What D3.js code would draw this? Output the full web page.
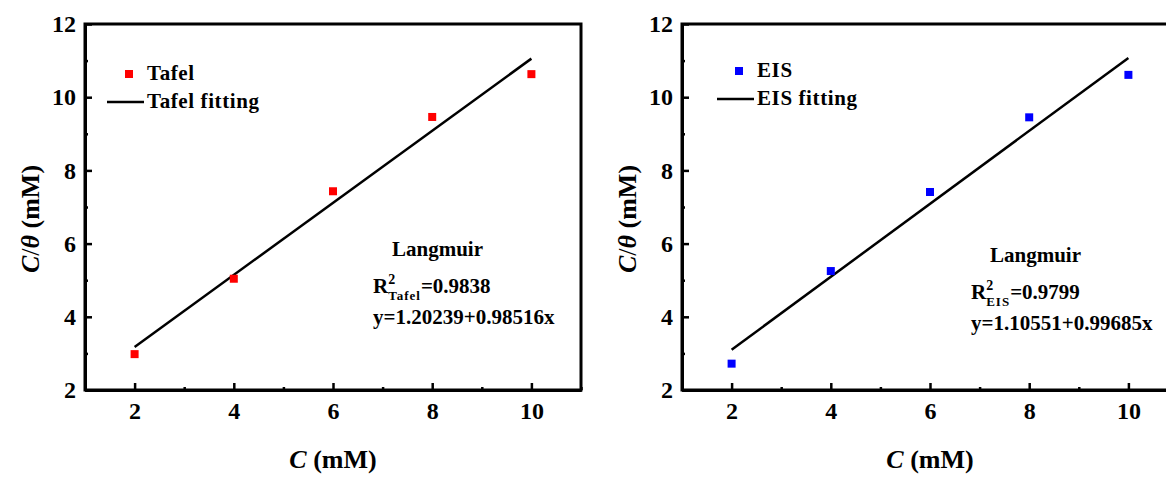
<!DOCTYPE html>
<html>
<head>
<meta charset="utf-8">
<script src="https://cdn.jsdelivr.net/npm/d3@7"></script>
<style>
  body { margin: 0; background: #fff; }
  svg text { font-family: 'Liberation Serif', 'DejaVu Serif', 'Noto Serif', Tinos, Times, serif; }
</style>
</head>
<body>
<svg id="chart" width="1166" height="477"></svg>
<script>
// data
const concentrations = [2, 4, 6, 8, 10];
const tafelValues = [2.98, 5.04, 7.43, 9.46, 10.63];
const eisValues = [2.72, 5.25, 7.41, 9.45, 10.61];
// fit coefficients as printed on the panels: [intercept, slope]
const tafelFit = [1.20239, 0.98516];
const eisFit = [1.10551, 0.99685];
const xTicks = [2, 4, 6, 8, 10];
const xMinorTicks = [3, 5, 7, 9, 11];
const yTicks = [2, 4, 6, 8, 10, 12];
const yMinorTicks = [3, 5, 7, 9, 11];

const svg = d3.select('#chart');

function label(sel, size){
    return sel.attr('font-weight', 'bold').attr('font-size', size).attr('fill', '#000');
}

function drawPanel(opts){
    const g = svg.append('g');
    const x = d3.scaleLinear().domain([1, 11]).range([opts.left, opts.left + 496]);
    const y = d3.scaleLinear().domain([2, 12]).range([390, 24]);

    // frame
    g.append('rect')
        .attr('x', x(1)).attr('y', y(12))
        .attr('width', x(11) - x(1)).attr('height', y(2) - y(12))
        .attr('fill', 'none').attr('stroke', '#000').attr('stroke-width', 3);

    // axes, ticks pointing inward
    const xAxis = g.append('g').attr('transform', `translate(0,${y(2)})`)
        .call(d3.axisBottom(x).tickValues(xTicks).tickSizeInner(-7).tickSizeOuter(0).tickPadding(12));
    g.append('g').attr('transform', `translate(0,${y(2)})`)
        .call(d3.axisBottom(x).tickValues(xMinorTicks).tickSizeInner(-3).tickSizeOuter(0).tickFormat(''));
    const yAxis = g.append('g').attr('transform', `translate(${x(1)},0)`)
        .call(d3.axisLeft(y).tickValues(yTicks).tickSizeInner(-7).tickSizeOuter(0).tickPadding(9));
    g.append('g').attr('transform', `translate(${x(1)},0)`)
        .call(d3.axisLeft(y).tickValues(yMinorTicks).tickSizeInner(-3).tickSizeOuter(0).tickFormat(''));

    g.selectAll('.domain').attr('stroke-width', 3);
    g.selectAll('.tick line').attr('stroke-width', 2.5);
    g.selectAll('g').attr('font-family', null);
    [xAxis, yAxis].forEach(a => label(a.selectAll('text'), 24));

    // fit line
    const fit = opts.fit;
    const ends = [concentrations[0], concentrations[concentrations.length - 1]];
    g.append('line')
        .attr('x1', x(ends[0])).attr('y1', y(fit[0] + fit[1] * ends[0]))
        .attr('x2', x(ends[1])).attr('y2', y(fit[0] + fit[1] * ends[1]))
        .attr('stroke', '#000').attr('stroke-width', 2.5);

    // points
    g.selectAll('rect.pt')
        .data(concentrations.map((c, i) => [c, opts.values[i]]))
        .join('rect')
        .attr('class', 'pt')
        .attr('x', d => x(d[0]) - 4).attr('y', d => y(d[1]) - 4)
        .attr('width', 8).attr('height', 8)
        .attr('fill', opts.color);

    // legend
    const lg = label(g.append('g'), 21)
        .attr('transform', `translate(${opts.left + opts.legend[0]},${opts.legend[1]})`);
    lg.append('rect').attr('x', 36).attr('y', -4).attr('width', 8).attr('height', 8).attr('fill', opts.color);
    lg.append('text').attr('x', 58).attr('y', 6).attr('letter-spacing', 0.6).text(opts.name);
    lg.append('line').attr('x1', 18).attr('x2', 55).attr('y1', 28).attr('y2', 28)
        .attr('stroke', '#000').attr('stroke-width', 2.5);
    lg.append('text').attr('x', 58).attr('y', 34).attr('letter-spacing', 0.6).text(`${opts.name} fitting`);

    // annotation
    const an = label(g.append('g'), 21)
        .attr('transform', `translate(${opts.left + opts.note[0]},${opts.note[1]})`);
    an.append('text').attr('x', 19).attr('y', 0).text('Langmuir');
    const r2 = an.append('text').attr('x', 0).attr('y', 37);
    r2.append('tspan').text('R');
    r2.append('tspan').attr('dy', -9).attr('font-size', 14).text('2');
    r2.append('tspan').attr('dy', 16).attr('dx', -7).attr('font-size', 13)
        .attr('letter-spacing', 1).text(opts.name);
    r2.append('tspan').attr('dy', -7).text(`=${opts.r2}`);
    an.append('text').attr('x', 0).attr('y', 68).text(`y=${fit[0]}+${fit[1]}x`);

    // axis titles
    label(g.append('text'), 26)
        .attr('x', (x(1) + x(11)) / 2).attr('y', 468)
        .attr('text-anchor', 'middle')
        .call(t => {
            t.append('tspan').attr('font-style', 'italic').text('C');
            t.append('tspan').text(' (mM)');
        });
    label(g.append('text'), 26)
        .attr('transform', `translate(${opts.left - 46},${(y(2) + y(12)) / 2 + 12}) rotate(-90)`)
        .attr('text-anchor', 'middle')
        .call(t => {
            t.append('tspan').attr('font-style', 'italic').text('C');
            t.append('tspan').attr('font-weight', 'normal').text('/');
            t.append('tspan').attr('font-style', 'italic').text('θ');
            t.append('tspan').text(' (mM)');
        });
}

drawPanel({left: 85, values: tafelValues, fit: tafelFit, color: '#ff0000', name: 'Tafel',
    r2: '0.9838', legend: [4, 74], note: [288, 256]});
drawPanel({left: 682, values: eisValues, fit: eisFit, color: '#0000ff', name: 'EIS',
    r2: '0.9799', legend: [17, 71], note: [289, 262]});
</script>
</body>
</html>
